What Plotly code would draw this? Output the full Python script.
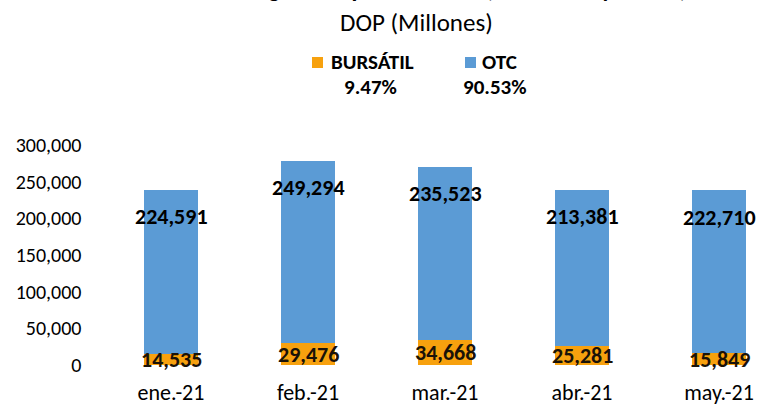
import plotly.graph_objects as go

categories = ["ene.-21", "feb.-21", "mar.-21", "abr.-21", "may.-21"]
bursatil = [14535, 29476, 34668, 25281, 15849]
otc = [224591, 249294, 235523, 213381, 222710]
series_names = ["BURSÁTIL", "OTC"]
title_line1 = "Volumen Negociado por Mercado (Enero - Mayo 2021)"
title_line2 = "DOP (Millones)"

ORANGE = "#F7A10E"
BLUE = "#5B9BD5"
FONT = "Carlito, Calibri, Lato, sans-serif"

W, H = 757, 407
def px(x): return x / W
def py(y): return (H - y) / H

fig = go.Figure()
fig.add_trace(go.Bar(x=categories, y=bursatil, name=series_names[0],
                     marker=dict(color=ORANGE, line=dict(width=0))))
fig.add_trace(go.Bar(x=categories, y=otc, name=series_names[1],
                     marker=dict(color=BLUE, line=dict(width=0))))

ann = []
for c, b, o in zip(categories, bursatil, otc):
    ann.append(dict(x=c, y=b / 2, xref="x", yref="y", text=f"<b>{b:,}</b>",
                    showarrow=False, yanchor="middle",
                    font=dict(size=22, color="#1a1208", family=FONT)))
    ann.append(dict(x=c, y=b + o, xref="x", yref="y", text=f"<b>{o:,}</b>",
                    showarrow=False, yanchor="middle", yshift=-27,
                    font=dict(size=22, color="#000000", family=FONT)))

tot_b = sum(bursatil)
tot_o = sum(otc)
tot = tot_b + tot_o
pct_b = 100 * tot_b / tot
pct_o = 100 * tot_o / tot

# titles (first line is mostly cut off at the top, as in the reference)
ann.append(dict(x=px(417), y=py(5), xref="paper", yref="paper", text=f"<b>{title_line1}</b>",
                showarrow=False, yanchor="bottom", xanchor="center",
                font=dict(size=24, color="#000", family=FONT)))
ann.append(dict(x=px(417), y=py(22), xref="paper", yref="paper", text=title_line2,
                showarrow=False, yanchor="middle", xanchor="center",
                font=dict(size=25, color="#000", family=FONT)))
# legend texts
ann.append(dict(x=px(329), y=py(62), xref="paper", yref="paper", text=f"<b>{series_names[0]}</b>",
                showarrow=False, yanchor="middle", xanchor="left",
                font=dict(size=21, color="#000", family=FONT)))
ann.append(dict(x=px(480), y=py(62), xref="paper", yref="paper", text=f"<b>{series_names[1]}</b>",
                showarrow=False, yanchor="middle", xanchor="left",
                font=dict(size=21, color="#000", family=FONT)))
ann.append(dict(x=px(370), y=py(87), xref="paper", yref="paper", text=f"<b>{pct_b:.2f}%</b>",
                showarrow=False, yanchor="middle", xanchor="center",
                font=dict(size=21, color="#000", family=FONT)))
ann.append(dict(x=px(495), y=py(87), xref="paper", yref="paper", text=f"<b>{pct_o:.2f}%</b>",
                showarrow=False, yanchor="middle", xanchor="center",
                font=dict(size=21, color="#000", family=FONT)))

shapes = [
    dict(type="rect", xref="paper", yref="paper", x0=px(312), x1=px(323), y0=py(68), y1=py(57),
         fillcolor=ORANGE, line=dict(width=0)),
    dict(type="rect", xref="paper", yref="paper", x0=px(465), x1=px(476), y0=py(68), y1=py(57),
         fillcolor=BLUE, line=dict(width=0)),
]

fig.update_layout(
    width=W, height=H,
    margin=dict(l=0, r=0, t=0, b=0, autoexpand=False),
    paper_bgcolor="white", plot_bgcolor="white",
    barmode="stack", bargap=0.606,
    showlegend=False,
    annotations=ann, shapes=shapes,
    font=dict(family=FONT, color="#000"),
    xaxis=dict(domain=[px(102.5), 1], range=[-0.5, (W - 102.5) / 137 - 0.5],
               automargin=False,
               showgrid=False, zeroline=False, showline=False, ticks="",
               tickfont=dict(size=22, color="#000", family=FONT), ticklabelstandoff=12),
    yaxis=dict(domain=[py(365), py(145)], range=[0, 300000], dtick=50000,
               automargin=False,
               tickformat=",d", showgrid=False, zeroline=False, showline=False, ticks="",
               tickfont=dict(size=20, color="#000", family=FONT), ticklabelstandoff=20),
)

fig.write_html("out.html", config={"displayModeBar": False},
               post_script="document.body.style.margin='0';document.body.style.padding='0';")
